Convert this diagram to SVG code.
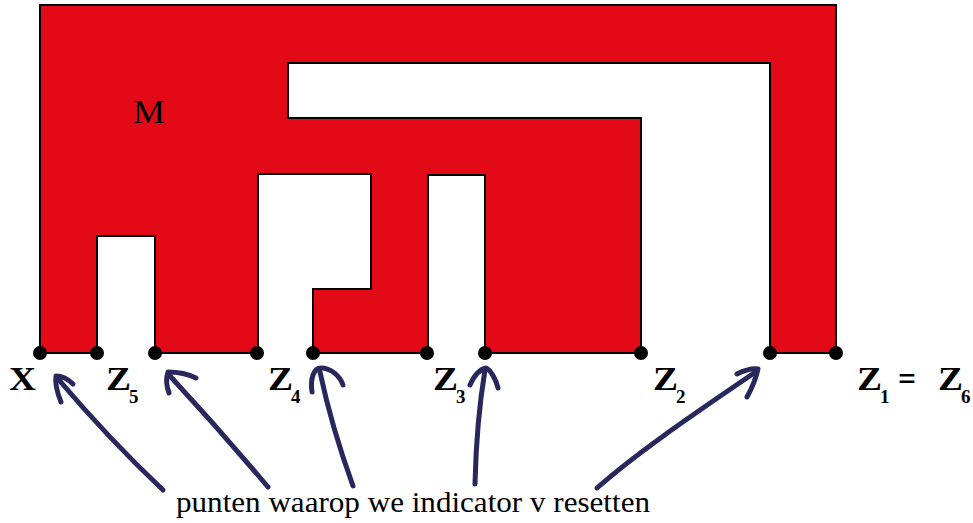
<svg xmlns="http://www.w3.org/2000/svg" width="973" height="523" viewBox="0 0 973 523">
<style>
.shape{fill:#e20a16;stroke:#000;stroke-width:2;stroke-linejoin:miter}
.dot{fill:#000}
.lbl{font-family:"Liberation Serif","DejaVu Serif",serif;font-weight:bold;font-size:33px;fill:#000}
.sub{font-family:"Liberation Serif","DejaVu Serif",serif;font-weight:bold;font-size:19px;fill:#000}
.arr{fill:none;stroke:#29285c;stroke-width:5;stroke-linecap:round;stroke-linejoin:round}
.note{font-family:"Liberation Serif","DejaVu Serif",serif;font-size:29px;fill:#000}
</style>
<rect width="973" height="523" fill="#fff"/>
<g id="region-M">
<path class="shape" d="M40,5 H836 V353 H770 V63 H288 V118 H641 V353 H485 V175 H428 V353 H313 V289 H371 V174 H258 V353 H155 V236 H97 V353 H40 Z"/>
<text x="133" y="123" font-family="Liberation Serif, DejaVu Serif, serif" font-size="34" fill="#000" textLength="32" lengthAdjust="spacingAndGlyphs">M</text>
</g>
<g id="points">
<circle class="dot" cx="40" cy="353" r="7"/>
<circle class="dot" cx="97" cy="353" r="7"/>
<circle class="dot" cx="155" cy="353" r="7"/>
<circle class="dot" cx="257" cy="353" r="7"/>
<circle class="dot" cx="313" cy="353" r="7"/>
<circle class="dot" cx="427" cy="353" r="7"/>
<circle class="dot" cx="485" cy="353" r="7"/>
<circle class="dot" cx="641" cy="353" r="7"/>
<circle class="dot" cx="770" cy="353" r="7"/>
<circle class="dot" cx="836" cy="353" r="7"/>
</g>
<g id="labels">
<text class="lbl" x="9" y="390" textLength="27" lengthAdjust="spacingAndGlyphs">X</text>
<text class="lbl" x="106" y="390" textLength="25" lengthAdjust="spacingAndGlyphs">Z</text>
<text class="sub" x="129" y="403">5</text>
<text class="lbl" x="268" y="390" textLength="25" lengthAdjust="spacingAndGlyphs">Z</text>
<text class="sub" x="291" y="403">4</text>
<text class="lbl" x="433" y="390" textLength="25" lengthAdjust="spacingAndGlyphs">Z</text>
<text class="sub" x="456" y="403">3</text>
<text class="lbl" x="653" y="390" textLength="25" lengthAdjust="spacingAndGlyphs">Z</text>
<text class="sub" x="676" y="403">2</text>
<text class="lbl" x="857" y="390" textLength="25" lengthAdjust="spacingAndGlyphs">Z</text>
<text class="sub" x="880" y="403">1</text>
<text class="lbl" x="898" y="390" textLength="18" lengthAdjust="spacingAndGlyphs" font-weight="normal">=</text>
<text class="lbl" x="938" y="390" textLength="25" lengthAdjust="spacingAndGlyphs">Z</text>
<text class="sub" x="961" y="403">6</text>
</g>
<g id="connectors">
<path class="arr" d="M163,490 Q110,440 59,380"/>
<path class="arr" d="M61,402 C57,392 55,382 56,376 C63,376 69,380 73,384"/>
<path class="arr" d="M268,487 Q220,430 170,376"/>
<path class="arr" d="M169,393 C166,385 166,378 168,372 C178,372 188,374 196,378"/>
<path class="arr" d="M353,486 C340,450 328,410 320,372"/>
<path class="arr" d="M312,392 C310,378 314,368 321,368 C331,368 340,376 343,385"/>
<path class="arr" d="M475,484 C476,440 480,400 485,370"/>
<path class="arr" d="M470,385 C474,376 480,369 486,368 C491,370 496,380 498,388"/>
<path class="arr" d="M597,488 C640,450 700,410 757,371"/>
<path class="arr" d="M737,374 C745,370 752,368 758,369 C756,378 752,388 747,397"/>
</g>
<text class="note" x="176" y="512" textLength="474" lengthAdjust="spacingAndGlyphs">punten waarop we indicator v resetten</text>
</svg>
